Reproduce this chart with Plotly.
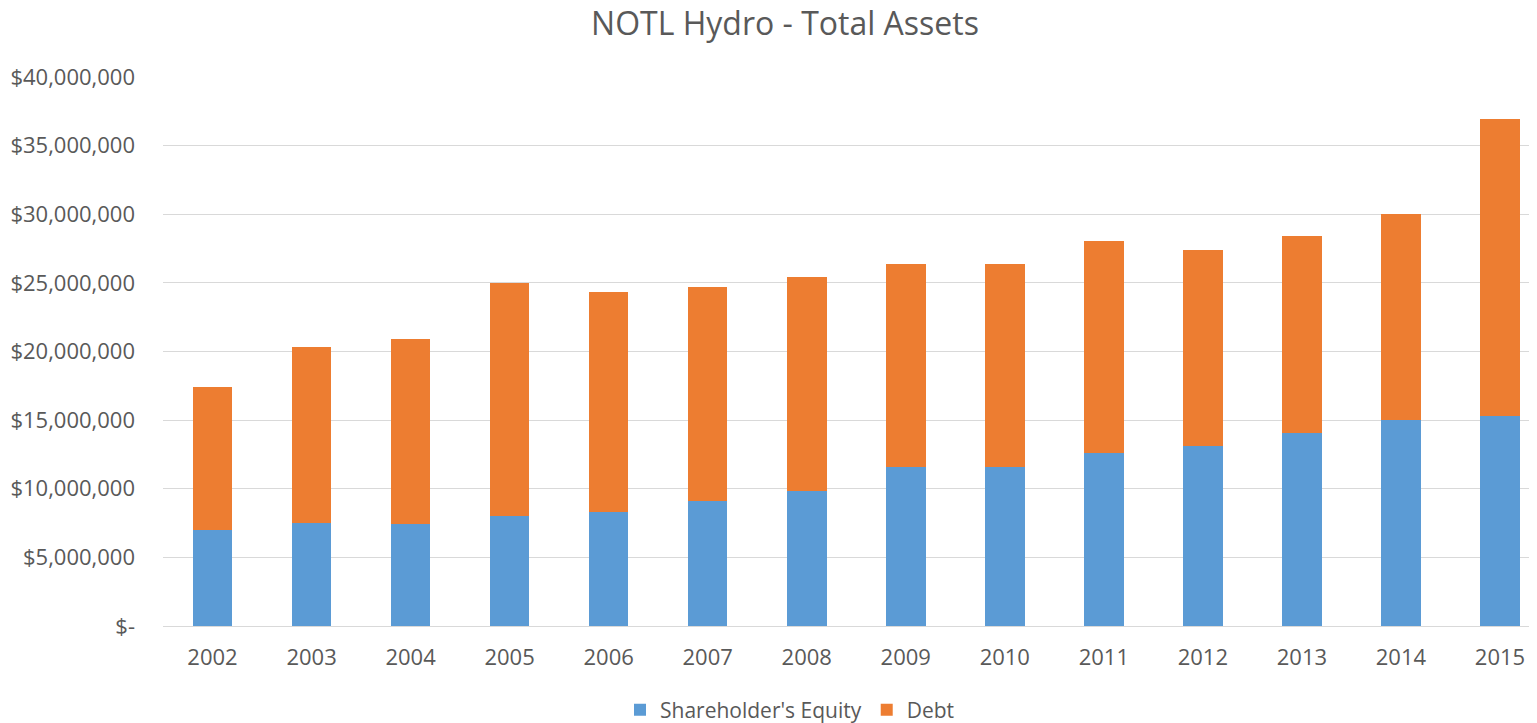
import plotly.graph_objects as go

years = ["2002", "2003", "2004", "2005", "2006", "2007", "2008",
         "2009", "2010", "2011", "2012", "2013", "2014", "2015"]
equity = [6970000, 7500000, 7450000, 7990000, 8330000, 9110000, 9860000,
          11560000, 11560000, 12580000, 13140000, 14040000, 15010000, 15300000]
total_assets = [17440000, 20310000, 20890000, 24990000, 24340000, 24700000, 25450000,
                26380000, 26380000, 28050000, 27400000, 28440000, 30000000, 36920000]
debt = [t - e for t, e in zip(total_assets, equity)]

y_tickvals = [0, 5000000, 10000000, 15000000, 20000000, 25000000, 30000000, 35000000, 40000000]
y_ticktext = ["$-", "$5,000,000", "$10,000,000", "$15,000,000", "$20,000,000",
              "$25,000,000", "$30,000,000", "$35,000,000", "$40,000,000"]

TXT = "#595959"
FONT = "Open Sans"
W, H = 1529, 715  # page body has an 8px margin

fig = go.Figure()
fig.add_trace(go.Bar(x=years, y=equity, name="Shareholder's Equity",
                     marker=dict(color="#5B9BD5", line=dict(width=0))))
fig.add_trace(go.Bar(x=years, y=debt, name="Debt",
                     marker=dict(color="#ED7D31", line=dict(width=0))))

fig.update_layout(
    width=W, height=H,
    barmode="stack", bargap=0.6,
    paper_bgcolor="white", plot_bgcolor="white",
    margin=dict(l=155, r=0, t=69, b=97),
    font=dict(family=FONT, color=TXT, size=22),
    title=dict(text="NOTL Hydro - Total Assets", font=dict(family=FONT, size=32, color=TXT),
               xref="container", x=(785 - 8) / W, xanchor="center",
               yref="container", y=1 - (24 - 8) / H, yanchor="middle"),
    legend=dict(orientation="h", traceorder="normal",
                xref="container", x=(790 - 8) / W, xanchor="center",
                yref="container", y=1 - (710 - 8) / H, yanchor="middle",
                font=dict(family=FONT, size=21, color=TXT), itemwidth=30),
    xaxis=dict(type="category", range=[-0.5, 13.374], showgrid=False,
               showline=True, linecolor="#D9D9D9", linewidth=1,
               tickfont=dict(family=FONT, size=22, color=TXT), ticks="",
               ticklabelstandoff=12),
    yaxis=dict(range=[0, 40000000], tickvals=y_tickvals, ticktext=y_ticktext,
               showgrid=True, gridcolor="#D9D9D9", gridwidth=1, zeroline=False,
               showline=False, ticks="",
               tickfont=dict(family=FONT, size=22, color=TXT),
               ticklabelstandoff=27),
)

fig.write_html("out.html")
